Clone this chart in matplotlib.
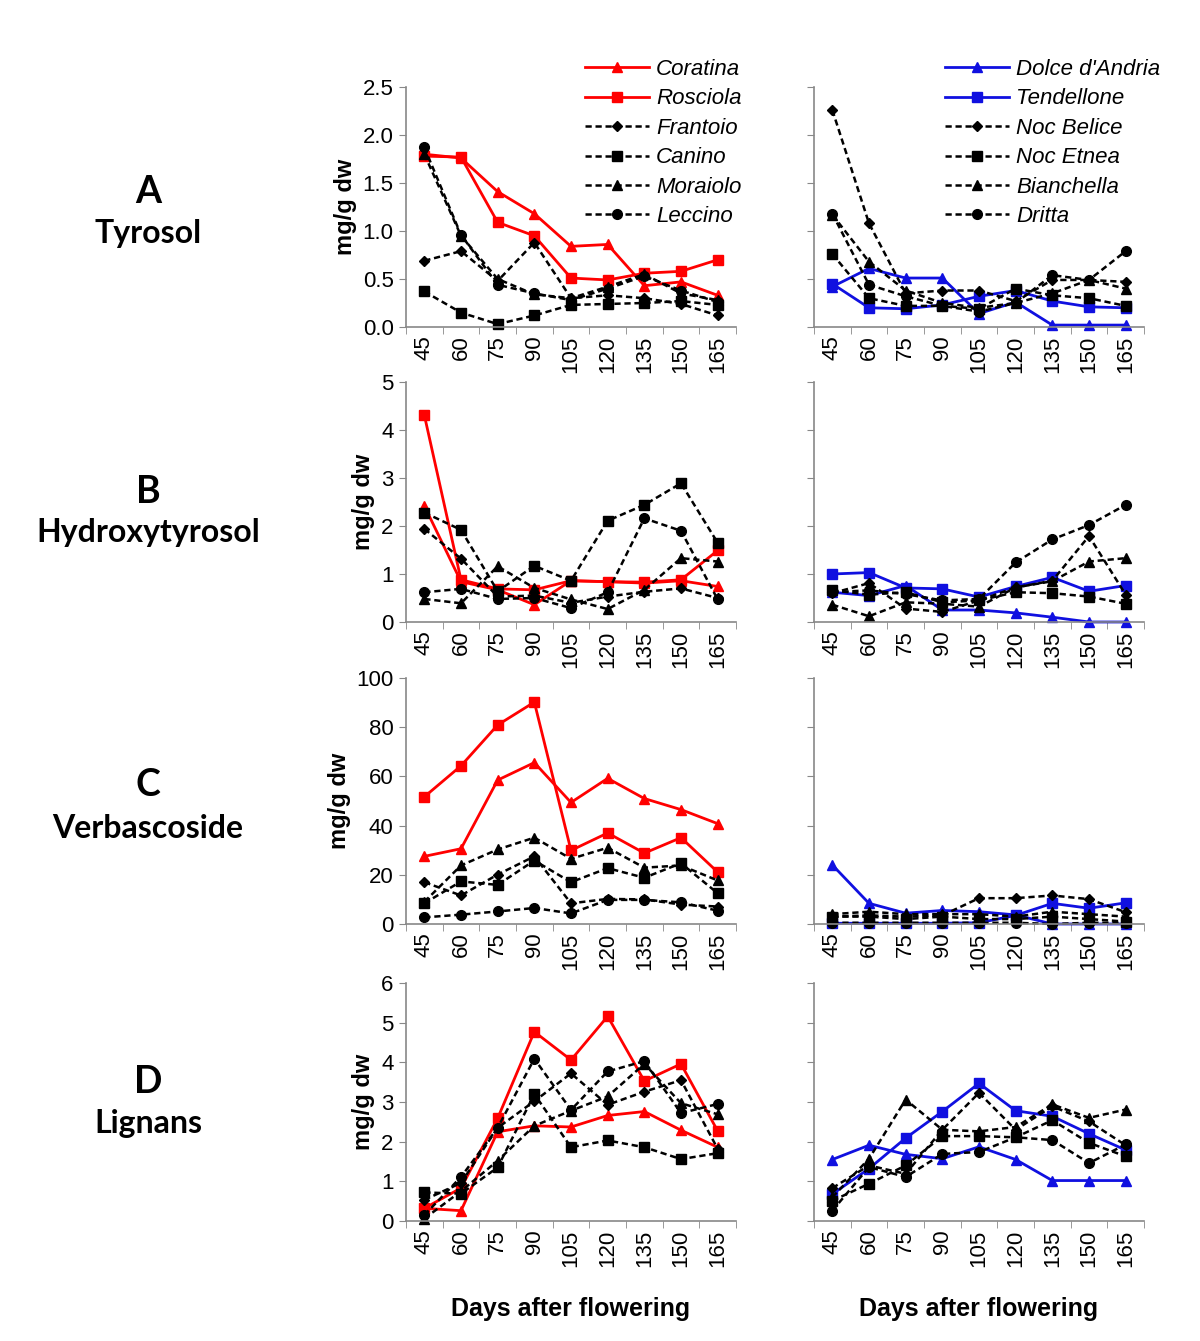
import numpy as np
import matplotlib.pyplot as plt

plt.rcParams['font.family'] = ['Liberation Sans', 'DejaVu Sans']

# данные: дни после цветения
days = [45, 60, 75, 90, 105, 120, 135, 150, 165]

left_names = ['Coratina', 'Rosciola', 'Frantoio', 'Canino', 'Moraiolo', 'Leccino']
right_names = ["Dolce d'Andria", 'Tendellone', 'Noc Belice', 'Noc Etnea', 'Bianchella', 'Dritta']

# A - Tyrosol
tyr_left = [
    [1.80, 1.76, 1.41, 1.18, 0.84, 0.86, 0.43, 0.47, 0.33],
    [1.78, 1.77, 1.09, 0.95, 0.51, 0.49, 0.56, 0.58, 0.70],
    [0.69, 0.79, 0.48, 0.88, 0.30, 0.33, 0.30, 0.24, 0.12],
    [0.37, 0.15, 0.03, 0.12, 0.23, 0.24, 0.25, 0.27, 0.23],
    [1.80, 0.95, 0.50, 0.34, 0.30, 0.42, 0.55, 0.35, 0.28],
    [1.87, 0.96, 0.44, 0.35, 0.28, 0.40, 0.53, 0.38, 0.26],
]
tyr_right = [
    [0.42, 0.61, 0.51, 0.51, 0.14, 0.26, 0.02, 0.02, 0.02],
    [0.45, 0.20, 0.19, 0.23, 0.32, 0.38, 0.27, 0.21, 0.20],
    [2.26, 1.08, 0.35, 0.38, 0.38, 0.27, 0.49, 0.49, 0.47],
    [0.76, 0.30, 0.22, 0.22, 0.19, 0.40, 0.33, 0.30, 0.22],
    [1.17, 0.68, 0.38, 0.25, 0.20, 0.25, 0.35, 0.49, 0.40],
    [1.18, 0.44, 0.32, 0.22, 0.16, 0.25, 0.54, 0.49, 0.79],
]

# B - Hydroxytyrosol
hyd_left = [
    [2.42, 0.84, 0.67, 0.36, 0.86, 0.84, 0.81, 0.86, 0.74],
    [4.31, 0.88, 0.69, 0.67, 0.86, 0.84, 0.83, 0.88, 1.49],
    [1.94, 1.32, 0.53, 0.55, 0.40, 0.53, 0.63, 0.70, 0.50],
    [2.28, 1.92, 0.64, 1.17, 0.86, 2.11, 2.44, 2.89, 1.65],
    [0.48, 0.39, 1.16, 0.71, 0.47, 0.27, 0.67, 1.33, 1.26],
    [0.62, 0.69, 0.48, 0.50, 0.29, 0.62, 2.16, 1.90, 0.47],
]
hyd_right = [
    [0.62, 0.55, 0.76, 0.25, 0.25, 0.19, 0.10, 0.00, 0.00],
    [1.00, 1.03, 0.71, 0.69, 0.52, 0.74, 0.93, 0.64, 0.76],
    [0.60, 0.81, 0.28, 0.21, 0.45, 0.72, 0.86, 1.79, 0.57],
    [0.66, 0.57, 0.62, 0.41, 0.45, 0.62, 0.60, 0.53, 0.38],
    [0.36, 0.12, 0.41, 0.38, 0.32, 0.72, 0.85, 1.26, 1.33],
    [0.62, 0.66, 0.58, 0.45, 0.48, 1.24, 1.72, 2.02, 2.44],
]

# C - Verbascoside
ver_left = [
    [27.5, 30.6, 58.5, 65.6, 49.4, 59.2, 51.0, 46.5, 40.8],
    [51.7, 64.3, 80.9, 90.2, 29.9, 37.0, 28.8, 35.1, 21.1],
    [17.0, 11.6, 20.1, 27.5, 8.4, 10.2, 10.0, 7.9, 7.1],
    [8.4, 17.3, 15.9, 25.8, 17.0, 22.7, 18.8, 24.7, 12.5],
    [9.0, 23.8, 30.3, 35.1, 26.5, 31.0, 22.9, 23.8, 17.7],
    [2.7, 3.8, 5.1, 6.5, 4.3, 9.8, 9.8, 8.8, 5.4],
]
ver_right = [
    [24.0, 8.4, 4.4, 5.5, 5.0, 3.7, 0.0, 0.0, 0.0],
    [0.3, 0.3, 0.3, 0.3, 0.5, 3.5, 8.4, 6.4, 8.6],
    [3.0, 3.5, 3.0, 3.5, 10.5, 10.5, 11.6, 10.1, 4.8],
    [3.0, 3.0, 2.0, 3.0, 2.0, 2.0, 3.0, 2.0, 1.0],
    [4.0, 5.0, 4.0, 4.0, 4.0, 3.0, 5.0, 4.0, 3.0],
    [0.5, 0.5, 0.5, 0.5, 0.5, 0.5, 0.0, 0.5, 0.5],
]

# D - Lignans
lig_left = [
    [0.32, 0.26, 2.25, 2.40, 2.37, 2.66, 2.76, 2.29, 1.86],
    [0.32, 0.83, 2.59, 4.77, 4.06, 5.16, 3.53, 3.96, 2.27],
    [0.53, 0.96, 2.35, 3.02, 3.72, 2.93, 3.26, 3.55, 1.82],
    [0.72, 0.69, 1.35, 3.20, 1.86, 2.03, 1.86, 1.56, 1.71],
    [0.06, 0.75, 1.52, 2.40, 2.78, 3.14, 3.96, 2.97, 2.69],
    [0.15, 1.11, 2.35, 4.09, 2.80, 3.77, 4.03, 2.72, 2.95],
]
lig_right = [
    [1.55, 1.91, 1.68, 1.57, 1.87, 1.55, 1.02, 1.02, 1.02],
    [0.68, 1.32, 2.09, 2.76, 3.47, 2.78, 2.64, 2.20, 1.79],
    [0.83, 1.40, 1.19, 2.30, 3.23, 2.30, 2.89, 2.51, 1.91],
    [0.51, 0.94, 1.40, 2.14, 2.14, 2.11, 2.54, 1.97, 1.63],
    [0.60, 1.57, 3.06, 2.30, 2.26, 2.37, 2.94, 2.60, 2.81],
    [0.26, 1.36, 1.11, 1.69, 1.74, 2.11, 2.04, 1.46, 1.93],
]

panel_letters = ['A', 'B', 'C', 'D']
compounds = ['Tyrosol', 'Hydroxytyrosol', 'Verbascoside', 'Lignans']
ymax = [2.5, 5, 100, 6]
ystep = [0.5, 1, 20, 1]
yfmt = ['%.1f', '%d', '%d', '%d']

markers = ['^', 's', 'D', 's', '^', 'o']
msizes = [7, 7, 5, 7, 7, 7]

# позиции панелей в пикселях (верх, низ)
rows_px = [(87, 327), (382, 622), (678, 924), (983, 1221)]
W, H = 1200, 1341

fig = plt.figure(figsize=(12, 13.41), dpi=100)

data = [(tyr_left, tyr_right), (hyd_left, hyd_right),
        (ver_left, ver_right), (lig_left, lig_right)]

x = np.arange(len(days))
for r in range(4):
    top, bot = rows_px[r]
    for side in range(2):
        x0 = 406 if side == 0 else 814
        ax = fig.add_axes([x0 / W, 1 - bot / H, 330 / W, (bot - top) / H])
        series = data[r][side]
        main_col = 'red' if side == 0 else '#1010e0'
        names = left_names if side == 0 else right_names
        for i, vals in enumerate(series):
            if i < 2:
                ax.plot(x, vals, color=main_col, lw=2, marker=markers[i],
                        ms=msizes[i], label=names[i], clip_on=False)
            else:
                ax.plot(x, vals, color='black', lw=1.8, ls=(0, (2.5, 1.5)),
                        marker=markers[i], ms=msizes[i], label=names[i], clip_on=False)
        ax.set_xlim(-0.5, 8.5)
        ax.set_ylim(0, ymax[r])
        ax.set_yticks(np.arange(0, ymax[r] + ystep[r] / 2, ystep[r]))
        if side == 0:
            ax.set_yticklabels([yfmt[r] % v for v in ax.get_yticks()], fontsize=16)
            ax.set_ylabel('mg/g dw', fontsize=17, fontweight='bold', labelpad=4)
        else:
            ax.set_yticklabels([])
        ax.set_xticks(x)
        ax.set_xticklabels([str(d) for d in days], rotation=90, fontsize=16)
        ax.set_xticks(np.arange(-0.5, 9, 1), minor=True)
        ax.tick_params(axis='x', which='major', length=0, pad=6)
        ax.tick_params(axis='x', which='minor', length=5, color='#888888', direction='out')
        ax.tick_params(axis='y', length=5, color='#888888', direction='out', pad=4)
        for s in ['top', 'right']:
            ax.spines[s].set_visible(False)
        for s in ['left', 'bottom']:
            ax.spines[s].set_color('#888888')
            ax.spines[s].set_linewidth(1.2)
        if r == 3:
            ax.set_xlabel('Days after flowering', fontsize=18, fontweight='bold', labelpad=22)
        if r == 0:
            lx = 585 if side == 0 else 945
            ax.legend(loc='upper left', bbox_to_anchor=(lx / W, 1 - 59 / H),
                      bbox_transform=fig.transFigure, frameon=False,
                      prop={'size': 16, 'style': 'italic'}, handlelength=2.9,
                      handletextpad=0.3, labelspacing=0.38, borderpad=0,
                      borderaxespad=0)

# подписи панелей слева
letter_y = [192, 492, 785, 1082]
name_y = [233, 533, 828, 1124]
for r in range(4):
    fig.text(148 / W, 1 - letter_y[r] / H, panel_letters[r], ha='center', va='center',
             fontsize=27, fontweight='bold', family=['Lato', 'DejaVu Sans'])
    fig.text(148 / W, 1 - name_y[r] / H, compounds[r], ha='center', va='center',
             fontsize=23, fontweight='bold', family=['Lato', 'DejaVu Sans'])

plt.savefig('out.png', dpi=100)
